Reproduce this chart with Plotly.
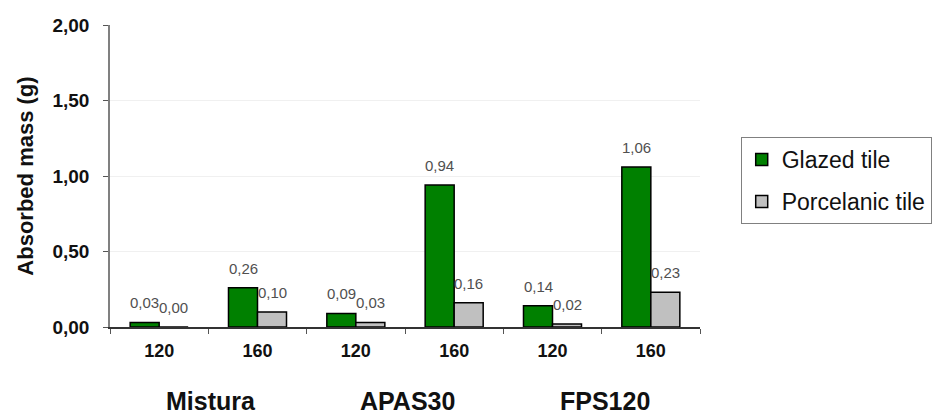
import plotly.graph_objects as go

groups = ["Mistura", "APAS30", "FPS120"]
temps = ["120", "160", "120", "160", "120", "160"]
categories = ["Mistura 120", "Mistura 160", "APAS30 120", "APAS30 160", "FPS120 120", "FPS120 160"]
glazed = [0.03, 0.26, 0.09, 0.94, 0.14, 1.06]
porcelanic = [0.00, 0.10, 0.03, 0.16, 0.02, 0.23]
y_ticks = [0, 0.5, 1.0, 1.5, 2.0]
y_ticktext = ["0,00", "0,50", "1,00", "1,50", "2,00"]

def fmt(v):
    return f"{v:.2f}".replace(".", ",")

fig = go.Figure()
fig.add_trace(go.Bar(
    x=categories, y=glazed, name="Glazed tile", legendgroup="g",
    marker=dict(color="#008000", line=dict(color="#000000", width=1.5)),
))
fig.add_trace(go.Bar(
    x=categories, y=porcelanic, name="Porcelanic tile", legendgroup="p",
    marker=dict(color="#C0C0C0", line=dict(color="#000000", width=1.5)),
))

# value labels above bars (half bar width offset for grouped bars)
half_bar = 14.5
for series, shift in ((glazed, -half_bar), (porcelanic, half_bar)):
    for c, v in zip(categories, series):
        fig.add_annotation(
            x=c, y=v, xshift=shift, yshift=10, yanchor="bottom",
            text=fmt(v), showarrow=False, borderpad=0,
            font=dict(family="Arial", size=15, color="#505050"),
        )

for i, g in enumerate(groups):
    fig.add_annotation(
        x=categories[2 * i], xshift=52, y=0, yref="y", yshift=-74,
        text=f"<b>{g}</b>", showarrow=False, yanchor="middle",
        font=dict(family="Arial", size=25, color="#111111"),
    )

fig.update_layout(
    width=933, height=415,
    margin=dict(l=110, r=233, t=25, b=88, autoexpand=False),
    plot_bgcolor="white", paper_bgcolor="white",
    barmode="group", bargap=0.41, bargroupgap=0,
    font=dict(family="Arial", color="#111111"),
    showlegend=True,
    legend=dict(
        x=1.069, y=0.629, xanchor="left", yanchor="top",
        bordercolor="#808080", borderwidth=1,
        font=dict(family="Arial", size=23, color="#111111"),
        traceorder="grouped", tracegroupgap=9,
        itemwidth=30,
    ),
    xaxis=dict(
        type="category", tickmode="array", tickvals=categories,
        ticktext=[f"<b>{t}</b>" for t in temps],
        tickson="boundaries", ticks="outside", ticklen=5, tickcolor="#555555",
        ticklabelstandoff=7,
        showline=True, linecolor="#333333", linewidth=1.5,
        tickfont=dict(family="Arial", size=18, color="#111111"),
        showgrid=False,
    ),
    yaxis=dict(
        range=[0, 2.0], tickmode="array", tickvals=y_ticks,
        ticktext=[f"<b>{t}</b>" for t in y_ticktext],
        ticks="outside", ticklen=5, tickcolor="#555555",
        ticklabelstandoff=10,
        showline=True, linecolor="#808080", linewidth=1.5,
        showgrid=True, gridcolor="#F0F0F0", gridwidth=1,
        tickfont=dict(family="Arial", size=19, color="#111111"),
        title=dict(text="<b>Absorbed mass (g)</b>", font=dict(family="Arial", size=22, color="#111111"), standoff=13),
        zeroline=False,
    ),
)

fig.write_html("out.html")
